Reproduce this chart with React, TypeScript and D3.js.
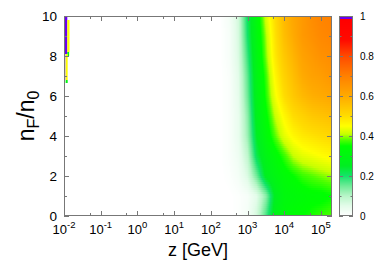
import { useEffect, useRef } from "react"
import * as d3 from "d3"

// rows of the map: n_F / n_0
const nRows = [0, 1, 2, 3, 4, 5, 6, 7, 8, 9, 10]
// columns of the map: log10(z / GeV)
const zExp = [2.25, 2.5, 2.75, 3.0, 3.25, 3.5, 3.75, 4.0, 4.25, 4.5, 4.75, 5.0, 5.3]
// value, one row per nRows entry
const fraction = [
  [0, 0, 0.005, 0.02, 0.07, 0.17, 0.28, 0.32, 0.34, 0.35, 0.36, 0.37, 0.38],
  [0, 0, 0.005, 0.015, 0.05, 0.13, 0.26, 0.31, 0.32, 0.33, 0.34, 0.34, 0.35],
  [0, 0.005, 0.02, 0.06, 0.15, 0.26, 0.3, 0.33, 0.35, 0.37, 0.38, 0.39, 0.4],
  [0, 0.01, 0.03, 0.09, 0.22, 0.29, 0.33, 0.37, 0.41, 0.43, 0.44, 0.45, 0.46],
  [0, 0.01, 0.04, 0.12, 0.25, 0.32, 0.38, 0.43, 0.46, 0.48, 0.49, 0.5, 0.51],
  [0, 0.01, 0.04, 0.13, 0.27, 0.34, 0.41, 0.46, 0.5, 0.52, 0.54, 0.55, 0.56],
  [0, 0.01, 0.045, 0.15, 0.28, 0.36, 0.44, 0.5, 0.54, 0.57, 0.59, 0.6, 0.61],
  [0, 0.01, 0.05, 0.16, 0.29, 0.37, 0.46, 0.52, 0.56, 0.6, 0.62, 0.63, 0.65],
  [0, 0.015, 0.06, 0.18, 0.3, 0.39, 0.48, 0.54, 0.58, 0.62, 0.64, 0.66, 0.67],
  [0, 0.015, 0.065, 0.2, 0.31, 0.4, 0.49, 0.56, 0.6, 0.64, 0.66, 0.68, 0.69],
  [0, 0.02, 0.07, 0.21, 0.32, 0.42, 0.5, 0.57, 0.61, 0.64, 0.67, 0.69, 0.7],
]

// the thin strip at z = 10^-2 (log10 z ranges, n ranges, value)
const stripZ0 = [-1.98, -1.91, -1.91, -1.985, -1.955, -1.955]
const stripZ1 = [-1.91, -1.85, -1.86, -1.965, -1.9, -1.9]
const stripN0 = [8.1, 8.2, 8.0, 6.8, 6.8, 6.65]
const stripN1 = [10, 9.8, 8.2, 8.1, 8.1, 6.8]
const stripV = [1, 0.45, 0.3, 1, 0.45, 0.3]

const xTickExps = [-2, -1, 0, 1, 2, 3, 4, 5]
const xMinorTicks = [0.05, 0.5, 5, 50, 500, 5000, 50000]
const yTicks = [0, 2, 4, 6, 8, 10]
const yMinorTicks = [1, 3, 5, 7, 9]
const cbTicks = [0, 0.2, 0.4, 0.6, 0.8, 1]
const cbTickLabels = ["0", "0.2", "0.4", "0.6", "0.8", "1"]
const cbMinorTicks = [0.1, 0.3, 0.5, 0.7, 0.9]

const colorStops = [0, 0.05, 0.1, 0.15, 0.2, 0.25, 0.35, 0.38, 0.41, 0.45, 0.5, 0.6, 0.7, 0.8, 0.88, 0.98]
const colorValues = [
  "#ffffff", "#e4fcea", "#b8f6c8", "#70eb98", "#14e36a", "#00ee22", "#00ff00", "#50ff00",
  "#c8ff00", "#ffff00", "#ffdc00", "#ffaa00", "#ff8000", "#ff4a00", "#ff0a00", "#ff0000",
]
const overColor = "#6a00f0"

const W = 392
const H = 277
const FONT = "'Liberation Sans', Arial, Helvetica, sans-serif"

export default function App() {
  const svgRef = useRef<SVGSVGElement>(null)

  useEffect(() => {
    if (!svgRef.current) return
    const svg = d3.select(svgRef.current)
    svg.selectAll("*").remove()

    const left = 64, right = 332, top = 16, bottom = 216
    const frame = "#777777"

    const x = d3.scaleLog().domain([1e-2, 2e5]).range([left, right])
    const y = d3.scaleLinear().domain([0, 10]).range([bottom, top])

    const ramp = d3.scaleLinear<string>().domain(colorStops).range(colorValues).clamp(true)
    const color = (v: number) => (v >= 0.985 ? overColor : ramp(v))

    // bilinear look-up into the grid (like pm3d interpolate)
    const sample = (lz: number, n: number) => {
      if (lz < zExp[0]) return 0
      let i = d3.bisectRight(zExp, lz) - 1
      i = Math.max(0, Math.min(zExp.length - 2, i))
      let j = d3.bisectRight(nRows, n) - 1
      j = Math.max(0, Math.min(nRows.length - 2, j))
      const tx = Math.max(0, Math.min(1, (lz - zExp[i]) / (zExp[i + 1] - zExp[i])))
      const ty = Math.max(0, Math.min(1, (n - nRows[j]) / (nRows[j + 1] - nRows[j])))
      const a = fraction[j][i], b = fraction[j][i + 1]
      const c = fraction[j + 1][i], d = fraction[j + 1][i + 1]
      return (a * (1 - tx) + b * tx) * (1 - ty) + (c * (1 - tx) + d * tx) * ty
    }

    svg.append("rect").attr("x", left).attr("y", top)
      .attr("width", right - left).attr("height", bottom - top).attr("fill", "#fff")

    const cells: { px: number; py: number; v: number }[] = []
    const xStart = Math.floor(x(Math.pow(10, zExp[0])))
    for (let px = xStart; px < right; px++) {
      const lz = Math.log10(x.invert(px + 0.5))
      for (let py = top; py < bottom; py += 2) {
        const v = sample(lz, y.invert(py + 1))
        if (v > 0.002) cells.push({ px, py, v })
      }
    }

    const map = svg.append("g").attr("shape-rendering", "crispEdges")
    map.selectAll("rect").data(cells).enter().append("rect")
      .attr("x", (d) => d.px).attr("y", (d) => d.py)
      .attr("width", 1).attr("height", 2)
      .attr("fill", (d) => color(d.v))

    svg.append("g").selectAll("rect").data(stripV).enter().append("rect")
      .attr("x", (_, i) => x(Math.pow(10, stripZ0[i])))
      .attr("y", (_, i) => y(stripN1[i]))
      .attr("width", (_, i) => x(Math.pow(10, stripZ1[i])) - x(Math.pow(10, stripZ0[i])))
      .attr("height", (_, i) => y(stripN0[i]) - y(stripN1[i]))
      .attr("fill", (d) => color(d))

    // frame + ticks
    const axes = svg.append("g").attr("stroke", frame).attr("stroke-width", 1).attr("fill", "none")
    axes.append("rect").attr("x", left + 0.5).attr("y", top + 0.5)
      .attr("width", right - left - 1).attr("height", bottom - top - 1)

    const tickPath = (len: number) => (xs: number[]) => {
      xs.forEach((v) => {
        const px = Math.round(x(v)) + 0.5
        axes.append("line").attr("x1", px).attr("x2", px).attr("y1", bottom).attr("y2", bottom - len)
        axes.append("line").attr("x1", px).attr("x2", px).attr("y1", top).attr("y2", top + len)
      })
    }
    tickPath(5)(xTickExps.map((e) => Math.pow(10, e)))
    tickPath(3)(xMinorTicks)

    const yTickPath = (len: number, vals: number[]) => {
      vals.forEach((v) => {
        const py = Math.round(y(v)) + 0.5
        axes.append("line").attr("x1", left).attr("x2", left + len).attr("y1", py).attr("y2", py)
        axes.append("line").attr("x1", right).attr("x2", right - len).attr("y1", py).attr("y2", py)
      })
    }
    yTickPath(5, yTicks)
    yTickPath(3, yMinorTicks)

    const labels = svg.append("g").attr("font-family", FONT).attr("fill", "#000")

    labels.selectAll(".yt").data(yTicks).enter().append("text")
      .attr("x", left - 7).attr("y", (d) => y(d))
      .attr("dy", "0.35em").attr("text-anchor", "end").attr("font-size", 13.5)
      .text((d) => d)

    const xt = labels.selectAll(".xt").data(xTickExps).enter().append("text")
      .attr("x", (d) => x(Math.pow(10, d))).attr("y", 234)
      .attr("text-anchor", "middle").attr("font-size", 13)
    xt.append("tspan").text("10")
    xt.append("tspan").attr("dy", -6).attr("font-size", 9.5).text((d) => String(d))

    labels.append("text").attr("x", (left + right) / 2).attr("y", 256)
      .attr("text-anchor", "middle").attr("font-size", 18).text("z [GeV]")

    const yl = labels.append("text")
      .attr("transform", `translate(34, ${(top + bottom) / 2}) rotate(-90)`)
      .attr("text-anchor", "middle").attr("font-size", 23)
    yl.append("tspan").text("n")
    yl.append("tspan").attr("dy", 5).attr("font-size", 16).text("F")
    yl.append("tspan").attr("dy", -5).text("/n")
    yl.append("tspan").attr("dy", 5).attr("font-size", 16).text("0")

    // colour box
    const cbL = 339, cbR = 353
    const cb = d3.scaleLinear().domain([0, 1]).range([bottom, top])
    const cbRows = d3.range(top, bottom)
    svg.append("g").attr("shape-rendering", "crispEdges")
      .selectAll("rect").data(cbRows).enter().append("rect")
      .attr("x", cbL).attr("y", (d) => d).attr("width", cbR - cbL).attr("height", 1)
      .attr("fill", (d) => color(cb.invert(d + 0.5)))

    const cbAxes = svg.append("g").attr("stroke", frame).attr("fill", "none")
    cbAxes.append("rect").attr("x", cbL + 0.5).attr("y", top + 0.5)
      .attr("width", cbR - cbL - 1).attr("height", bottom - top - 1)
    const cbTick = (len: number, vals: number[]) => {
      vals.forEach((v) => {
        const py = Math.round(cb(v)) + 0.5
        cbAxes.append("line").attr("x1", cbL).attr("x2", cbL + len).attr("y1", py).attr("y2", py)
        cbAxes.append("line").attr("x1", cbR).attr("x2", cbR - len).attr("y1", py).attr("y2", py)
      })
    }
    cbTick(4, cbTicks)
    cbTick(2.5, cbMinorTicks)

    labels.selectAll(".ct").data(cbTicks).enter().append("text")
      .attr("x", 360).attr("y", (d) => cb(d)).attr("dy", "0.35em")
      .attr("font-size", 10).text((_, i) => cbTickLabels[i])
  }, [])

  return (
    <svg ref={svgRef} width={W} height={H} viewBox={`0 0 ${W} ${H}`}
      style={{ position: "absolute", left: 0, top: 0, background: "#fff" }} />
  )
}
